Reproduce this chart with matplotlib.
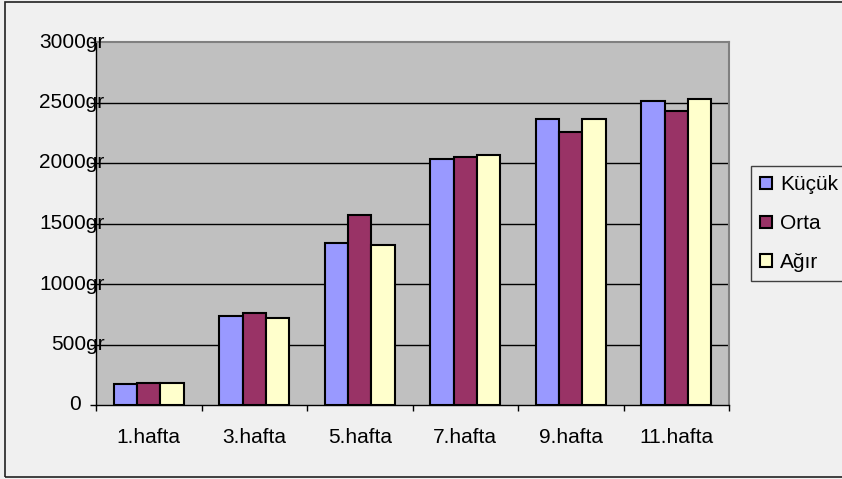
import matplotlib.pyplot as plt
import numpy as np
from matplotlib.patches import Rectangle

plt.rcParams['font.family'] = ['Liberation Sans', 'DejaVu Sans']

weeks = ["1.hafta", "3.hafta", "5.hafta", "7.hafta", "9.hafta", "11.hafta"]
kucuk = [170, 734, 1341, 2034, 2363, 2509]
orta = [184, 761, 1569, 2050, 2253, 2426]
agir = [184, 715, 1325, 2067, 2363, 2528]
series_names = ["Küçük", "Orta", "Ağır"]
colors = ["#9999FF", "#993366", "#FFFFCC"]
y_ticks = [0, 500, 1000, 1500, 2000, 2500, 3000]

FS = 15
W, H = 842, 479
fig = plt.figure(figsize=(W / 100, H / 100), dpi=100)
fig.patch.set_facecolor("#F0F0F0")

# chart area border
fig.patches.append(Rectangle((5 / W, 2 / H), 1, 475 / H, transform=fig.transFigure,
                             fill=False, edgecolor="#222222", lw=1.2))

ax = fig.add_axes([96 / W, (H - 405) / H, (729 - 96) / W, (405 - 42) / H])
ax.set_facecolor("#C0C0C0")

x = np.arange(len(weeks))
w = 0.222
for i, (vals, name, c) in enumerate(zip([kucuk, orta, agir], series_names, colors)):
    ax.bar(x + (i - 1) * w, vals, width=w, color=c, edgecolor="black",
           linewidth=1.5, label=name, zorder=3)

ax.set_xlim(-0.5, len(weeks) - 0.5)
ax.set_ylim(0, 3000)

# horizontal gridlines
for t in y_ticks[1:-1]:
    ax.axhline(t, color="black", lw=1, zorder=1)

for side in ["top", "right"]:
    ax.spines[side].set_color("#808080")
    ax.spines[side].set_linewidth(1.5)
for side in ["left", "bottom"]:
    ax.spines[side].set_color("black")
    ax.spines[side].set_linewidth(1)

# category boundary ticks on x axis
ax.set_xticks(np.arange(-0.5, len(weeks)))
ax.set_xticklabels([])
ax.tick_params(axis="x", direction="out", length=4.5, width=1, color="black")
for xi, lab in zip(x, weeks):
    ax.annotate(lab, xy=(xi, 0), xycoords=("data", "axes fraction"),
                xytext=(0, -23.5), textcoords="offset points",
                ha="center", va="center", fontsize=FS)

ax.set_yticks(y_ticks)
ax.set_yticklabels([])
ax.tick_params(axis="y", direction="out", length=4.5, width=1, color="black")
for t in y_ticks:
    if t == 0:
        txt, dx = "0", -11
    else:
        txt, dx = f"{t}gr", 6
    ax.annotate(txt, xy=(0, t), xycoords=("axes fraction", "data"),
                xytext=(dx, 0), textcoords="offset points",
                ha="right", va="center", fontsize=FS)

leg = fig.legend(loc="upper left", bbox_to_anchor=(751 / W, (H - 166) / H),
                 fontsize=FS, frameon=True, fancybox=False, edgecolor="#404040",
                 facecolor="#F0F0F0", handlelength=0.55, handleheight=0.55,
                 handletextpad=0.4, labelspacing=0.95, borderpad=0.45,
                 borderaxespad=0)
leg.get_frame().set_linewidth(1)
leg.get_frame().set_alpha(1)

fig.savefig("out.png", dpi=100, facecolor=fig.get_facecolor())
